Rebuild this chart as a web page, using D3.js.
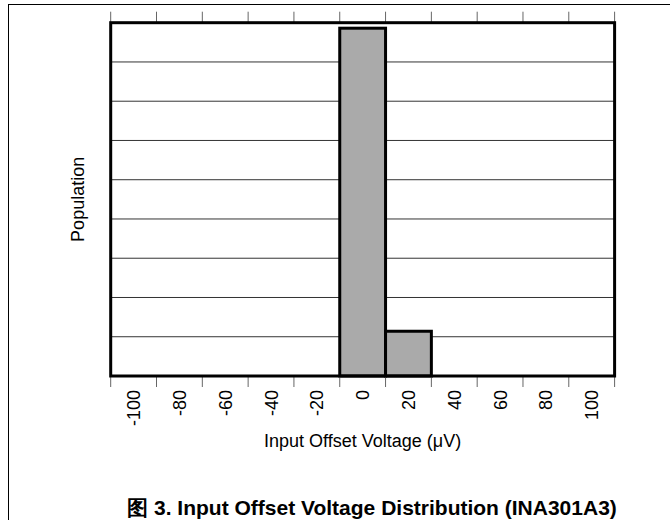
<!DOCTYPE html>
<html>
<head>
<meta charset="utf-8">
<script src="https://cdn.jsdelivr.net/npm/d3@7"></script>
<style>
  html, body { margin: 0; padding: 0; background: #fff; }
  svg { display: block; }
  text { font-family: Arial, "Liberation Sans", sans-serif; fill: #000; }
</style>
</head>
<body>
<svg id="chart" width="670" height="520"></svg>
<script>
// Data
const categories = ["-100", "-80", "-60", "-40", "-20", "0", "20", "40", "60", "80", "100"];
const population = [0, 0, 0, 0, 0, 88.6, 11.4, 0, 0, 0, 0];
const gridValues = [10, 20, 30, 40, 50, 60, 70, 80];
const xTitle = "Input Offset Voltage (\u03BCV)";
const yTitle = "Population";
const caption = "\u56FE 3. Input Offset Voltage Distribution (INA301A3)";

const svg = d3.select("#chart");
const L = 110.7, R = 614.6, T = 22.7, B = 376;

// outer frame
svg.append("line").attr("x1", 8.5).attr("x2", 670).attr("y1", 4.5).attr("y2", 4.5)
  .attr("stroke", "#000").attr("stroke-width", 1);
svg.append("line").attr("x1", 8.5).attr("x2", 8.5).attr("y1", 4).attr("y2", 520)
  .attr("stroke", "#000").attr("stroke-width", 1);

const x = d3.scaleBand().domain(categories).range([L, R]).padding(0);
const y = d3.scaleLinear().domain([0, 90]).range([B, T]);

// gridlines
svg.append("g").selectAll("line").data(gridValues).join("line")
  .attr("x1", L).attr("x2", R)
  .attr("y1", d => y(d)).attr("y2", d => y(d))
  .attr("stroke", "#333").attr("stroke-width", 1);

// bars
svg.append("g").selectAll("rect").data(categories.map((c, i) => ({c, v: population[i]})).filter(d => d.v > 0))
  .join("rect")
  .attr("x", d => x(d.c)).attr("width", x.bandwidth())
  .attr("y", d => y(d.v)).attr("height", d => y(0) - y(d.v))
  .attr("fill", "#aaaaaa").attr("stroke", "#000").attr("stroke-width", 3);

// tick marks at bin boundaries (top and bottom)
const bounds = categories.map(c => x(c)).concat([x(categories[categories.length - 1]) + x.bandwidth()]);
svg.append("g").selectAll("line").data(bounds).join("line")
  .attr("x1", d => d).attr("x2", d => d).attr("y1", B).attr("y2", B + 11)
  .attr("stroke", "#666").attr("stroke-width", 1);
svg.append("g").selectAll("line").data(bounds).join("line")
  .attr("x1", d => d).attr("x2", d => d).attr("y1", T - 11).attr("y2", T)
  .attr("stroke", "#666").attr("stroke-width", 1);

// plot border
svg.append("rect").attr("x", L).attr("y", T).attr("width", R - L).attr("height", B - T)
  .attr("fill", "none").attr("stroke", "#000").attr("stroke-width", 3);

// tick labels
svg.append("g").selectAll("text").data(categories).join("text")
  .attr("transform", d => `translate(${x(d) + x.bandwidth() / 2 + 6.5},${B + 14}) rotate(-90)`)
  .attr("text-anchor", "end")
  .style("font-size", "18px")
  .text(d => d);

// axis titles
svg.append("text").attr("x", (L + R) / 2).attr("y", 447).attr("text-anchor", "middle")
  .style("font-size", "18px").text(xTitle);
svg.append("text").attr("transform", `translate(84,${(T + B) / 2}) rotate(-90)`)
  .attr("text-anchor", "middle").style("font-size", "18px").text(yTitle);

// caption
svg.append("text").attr("x", 372).attr("y", 515).attr("text-anchor", "middle")
  .style("font-size", "21px").style("font-weight", "bold").text(caption);
</script>
</body>
</html>
